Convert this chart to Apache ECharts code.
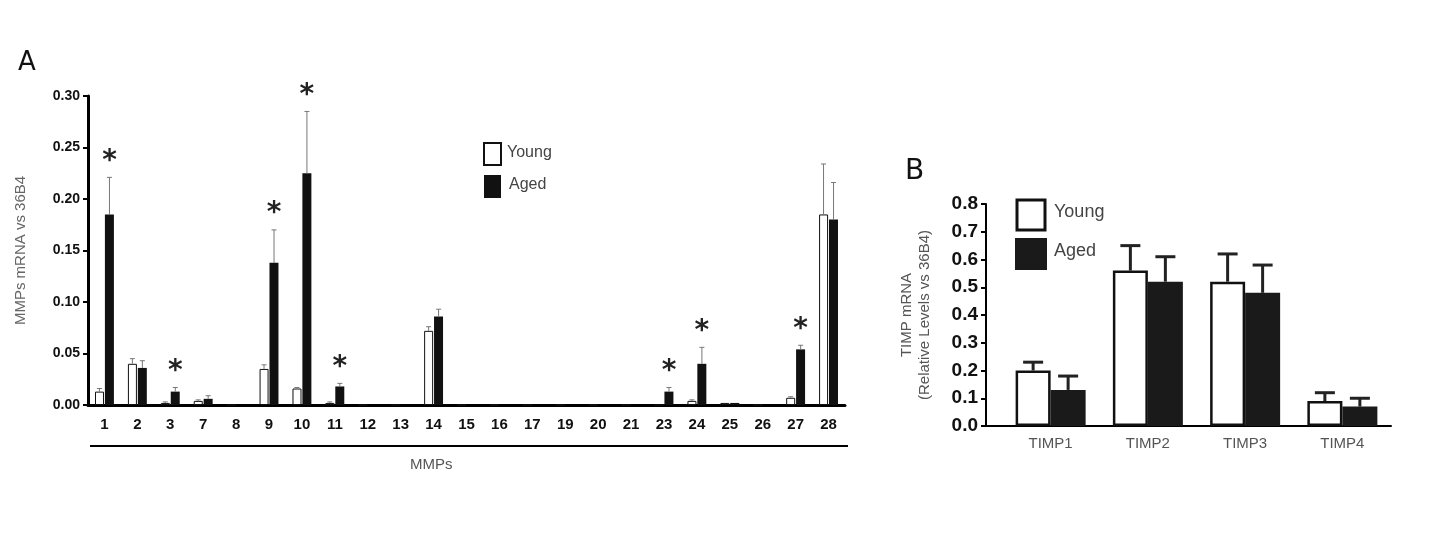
<!DOCTYPE html><html><head><meta charset="utf-8">
<script src="https://cdn.jsdelivr.net/npm/echarts@6/dist/echarts.min.js"></script>
<style>html,body{margin:0;background:#fff}#c{width:1440px;height:556px}</style></head><body><div id="c"></div>
<script>
const mmpCats=['1','2','3','7','8','9','10','11','12','13','14','15','16','17','19','20','21','23','24','25','26','27','28'];
const mmpYoung=[0.013,0.040,0.002,0.004,0,0.035,0.016,0.002,0,0,0.072,0,0,0,0,0,0,0,0.004,0.002,0,0.007,0.185];
const mmpYoungErr=[0.003,0.005,0.001,0.001,0,0.004,0.001,0.001,0,0,0.004,0,0,0,0,0,0,0,0.001,0,0,0.001,0.049];
const mmpAged=[0.185,0.036,0.013,0.006,0,0.138,0.225,0.018,0,0,0.086,0,0,0,0,0,0,0.013,0.040,0.002,0,0.054,0.180];
const mmpAgedErr=[0.036,0.007,0.004,0.003,0,0.032,0.060,0.003,0,0,0.007,0,0,0,0,0,0,0.004,0.016,0,0,0.004,0.036];
const mmpStar=[1,0,1,0,0,1,1,1,0,0,0,0,0,0,0,0,0,1,1,0,0,1,0];
const mmpTicks=['0.00','0.05','0.10','0.15','0.20','0.25','0.30'];
const timpCats=['TIMP1','TIMP2','TIMP3','TIMP4'];
const timpYoung=[0.20,0.56,0.52,0.09];
const timpYoungErr=[0.03,0.09,0.10,0.03];
const timpAged=[0.13,0.52,0.48,0.07];
const timpAgedErr=[0.05,0.09,0.10,0.03];

function errSeries(idx,vals,errs,stars,off,cap,lw,color,starOff){
  return {type:'custom',xAxisIndex:idx,yAxisIndex:idx,z:5,silent:true,
    data:vals.map((v,i)=>[i,v,errs[i],stars?stars[i]:0]),
    renderItem:(p,api)=>{
      const i=api.value(0),v=api.value(1),e=api.value(2),s=api.value(3);
      const b=api.coord([i,v]),t=api.coord([i,v+e]);
      const x=b[0]+off;const ch=[];
      if(e>0){
        ch.push({type:'line',shape:{x1:x,y1:b[1],x2:x,y2:t[1]},style:{stroke:color,lineWidth:lw}});
        ch.push({type:'line',shape:{x1:x-cap,y1:t[1],x2:x+cap,y2:t[1]},style:{stroke:color,lineWidth:lw}});
      }
      if(s){ch.push({type:'text',style:{text:'*',x:x,y:t[1]-2,align:'center',verticalAlign:'bottom',font:'bold 28px DejaVu Sans',fill:'#222'}});}
      return {type:'group',children:ch};
    }};
}
const chart=echarts.init(document.getElementById('c'));
chart.setOption({
  animation:false,
  grid:[{left:88,top:96,width:757,height:309},{left:1002,top:204,width:389,height:222}],
  xAxis:[
    {type:'category',gridIndex:0,data:mmpCats,axisLine:{lineStyle:{color:'#000',width:3}},axisTick:{show:false},
     axisLabel:{color:'#111',fontSize:15,fontWeight:'bold',fontFamily:'Liberation Sans',margin:12}},
    {type:'category',gridIndex:1,data:timpCats,axisLine:{lineStyle:{color:'#000',width:2}},axisTick:{show:false},
     axisLabel:{color:'#555',fontSize:15,fontFamily:'Liberation Sans',margin:10}}
  ],
  yAxis:[
    {type:'value',gridIndex:0,min:0,max:0.30,interval:0.05,splitLine:{show:false},
     axisLine:{show:true,lineStyle:{color:'#000',width:3}},axisTick:{show:true,length:5,lineStyle:{color:'#000',width:2}},
     axisLabel:{color:'#111',fontSize:14,fontWeight:'bold',fontFamily:'Liberation Sans',formatter:v=>mmpTicks[Math.round(v/0.05)]},
     name:'MMPs mRNA vs 36B4',nameLocation:'middle',nameGap:60,nameRotate:90,nameTextStyle:{color:'#666',fontSize:15,fontFamily:'Liberation Sans'}},
    {type:'value',gridIndex:1,min:0,max:0.8,interval:0.1,offset:16,splitLine:{show:false},
     axisLine:{show:true,lineStyle:{color:'#000',width:2}},axisTick:{show:true,length:5,lineStyle:{color:'#000',width:2}},
     axisLabel:{color:'#111',fontSize:19,fontWeight:'bold',fontFamily:'Liberation Sans',formatter:v=>v.toFixed(1)},
     name:'TIMP mRNA\n(Relative Levels vs 36B4)',nameLocation:'middle',nameGap:52,nameRotate:90,nameTextStyle:{color:'#555',fontSize:15,lineHeight:18,fontFamily:'Liberation Sans'}}
  ],
  series:[
    {type:'bar',name:'Young',xAxisIndex:0,yAxisIndex:0,data:mmpYoung,barWidth:9,barGap:'10%',itemStyle:{color:'#fff',borderColor:'#111',borderWidth:1}},
    {type:'bar',name:'Aged',xAxisIndex:0,yAxisIndex:0,data:mmpAged,barWidth:9,barGap:'10%',itemStyle:{color:'#111'}},
    errSeries(0,mmpYoung,mmpYoungErr,null,-5,2.5,1,'#777'),
    errSeries(0,mmpAged,mmpAgedErr,mmpStar,5,2.5,1,'#777'),
    {type:'bar',name:'Young',xAxisIndex:1,yAxisIndex:1,data:timpYoung,barWidth:35,barGap:'0%',itemStyle:{color:'#fff',borderColor:'#111',borderWidth:2.5}},
    {type:'bar',name:'Aged',xAxisIndex:1,yAxisIndex:1,data:timpAged,barWidth:35,barGap:'0%',itemStyle:{color:'#1a1a1a'}},
    errSeries(1,timpYoung,timpYoungErr,null,-17.5,10,3,'#222'),
    errSeries(1,timpAged,timpAgedErr,null,17.5,10,3,'#222')
  ],
  graphic:[
    {type:'text',left:18,top:50,style:{text:'A',font:'26px DejaVu Sans',fill:'#111'}},
    {type:'text',left:905,top:158,style:{text:'B',font:'28px DejaVu Sans',fill:'#111'}},
    {type:'line',shape:{x1:90,y1:446,x2:848,y2:446},style:{stroke:'#000',lineWidth:2}},
    {type:'text',left:410,top:457,style:{text:'MMPs',font:'15px Liberation Sans',fill:'#555'}},
    {type:'line',shape:{x1:986,y1:426,x2:1002,y2:426},style:{stroke:'#000',lineWidth:2}},
    {type:'rect',shape:{x:484,y:143,width:17,height:22},style:{fill:'#fff',stroke:'#111',lineWidth:2}},
    {type:'rect',shape:{x:484,y:175,width:17,height:23},style:{fill:'#111'}},
    {type:'text',left:507,top:145,style:{text:'Young',font:'16px Liberation Sans',fill:'#444'}},
    {type:'text',left:509,top:177,style:{text:'Aged',font:'16px Liberation Sans',fill:'#444'}},
    {type:'rect',shape:{x:1017,y:200,width:28,height:30},style:{fill:'#fff',stroke:'#111',lineWidth:3}},
    {type:'rect',shape:{x:1015,y:238,width:32,height:32},style:{fill:'#1a1a1a'}},
    {type:'text',left:1054,top:203,style:{text:'Young',font:'18px Liberation Sans',fill:'#444'}},
    {type:'text',left:1054,top:242,style:{text:'Aged',font:'18px Liberation Sans',fill:'#444'}}
  ]
});
</script></body></html>
